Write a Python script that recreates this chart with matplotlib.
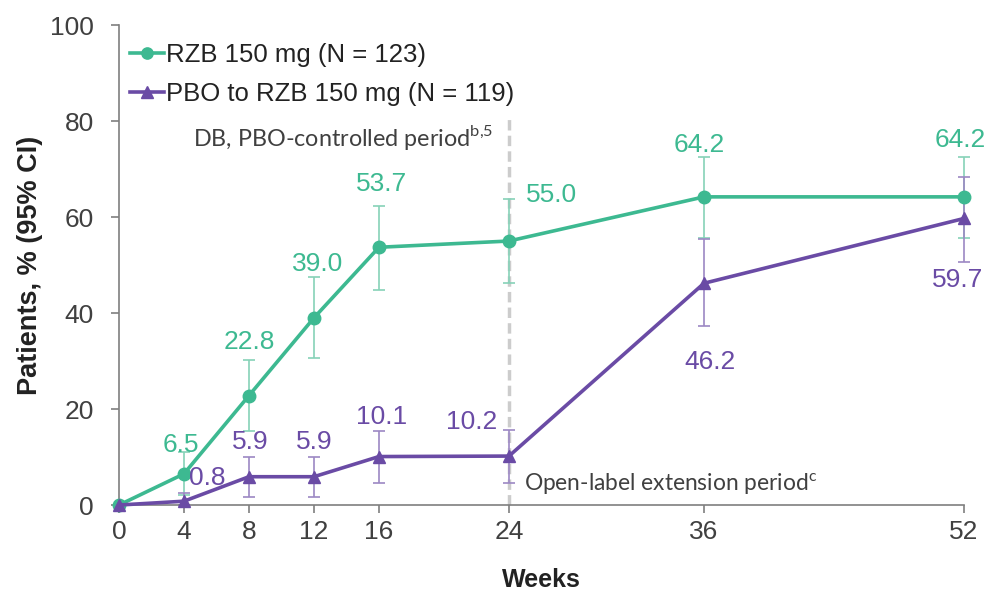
import numpy as np
import matplotlib
matplotlib.use("Agg")
import matplotlib.pyplot as plt

plt.rcParams['font.family'] = ['Liberation Sans', 'DejaVu Sans']

# data
weeks = [0, 4, 8, 12, 16, 24, 36, 52]
rzb = [0.0, 6.5, 22.8, 39.0, 53.7, 55.0, 64.2, 64.2]
rzb_lo = [0.0, 2.0, 15.4, 30.6, 44.8, 46.3, 55.6, 55.6]
rzb_hi = [0.0, 11.0, 30.2, 47.5, 62.3, 63.8, 72.5, 72.5]
pbo = [0.0, 0.8, 5.9, 5.9, 10.1, 10.2, 46.2, 59.7]
pbo_lo = [0.0, 0.0, 1.7, 1.7, 4.6, 4.6, 37.3, 50.6]
pbo_hi = [0.0, 2.5, 10.0, 10.0, 15.4, 15.6, 55.4, 68.3]
rzb_labels = ['', '6.5', '22.8', '39.0', '53.7', '55.0', '64.2', '64.2']
pbo_labels = ['', '0.8', '5.9', '5.9', '10.1', '10.2', '46.2', '59.7']
xticks = [0, 4, 8, 12, 16, 24, 36, 52]
yticks = [0, 20, 40, 60, 80, 100]

teal = '#3DB991'
purple = '#6A4BA5'
teal_err = '#86D2B8'
purple_err = '#9C88C4'
grey = '#404040'

# label offsets (pixels)
rzb_off = [(0, 0), (-3, 29), (0, 54), (4, 54), (3, 63), (43, 46), (-5, 52), (-4, 57)]
pbo_off = [(0, 0), (23, 23), (1, 35), (0, 35), (3, 40), (-37, 34), (6, -79), (-6, -62)]

fig = plt.figure(figsize=(9.93, 5.9), dpi=100)
ax = fig.add_axes([0.1198, 0.144, 0.851, 0.8136])

ax.axvline(24, ymin=0, ymax=0.81, color='#cccccc', lw=2.5, ls=(0, (3, 1.5)), zorder=1)

r = np.array(rzb); p = np.array(pbo)
ax.errorbar(weeks, rzb, yerr=[r - np.array(rzb_lo), np.array(rzb_hi) - r], fmt='none',
            ecolor=teal_err, elinewidth=1.2, capsize=4, capthick=1.2, zorder=2)
ax.errorbar(weeks, pbo, yerr=[p - np.array(pbo_lo), np.array(pbo_hi) - p], fmt='none',
            ecolor=purple_err, elinewidth=1.2, capsize=4, capthick=1.2, zorder=2)
ax.plot(weeks, rzb, '-o', color=teal, lw=2.6, ms=9, zorder=3, label='RZB 150 mg (N = 123)')
ax.plot(weeks, pbo, '-^', color=purple, lw=2.6, ms=9, zorder=4, label='PBO to RZB 150 mg (N = 119)')

for w, v, t, o in zip(weeks, rzb, rzb_labels, rzb_off):
    if t:
        ax.annotate(t, (w, v), xytext=o, textcoords='offset pixels', ha='center', va='center',
                    fontsize=19, color=teal)
for w, v, t, o in zip(weeks, pbo, pbo_labels, pbo_off):
    if t:
        ax.annotate(t, (w, v), xytext=o, textcoords='offset pixels', ha='center', va='center',
                    fontsize=19, color=purple)

ax.text(23.0, 76.5, r'DB, PBO-controlled period$^{\mathregular{b{,}5}}$', ha='right', va='center',
        fontsize=16.8, color=grey, family=['Lato', 'DejaVu Sans'])
ax.text(24.9, 4.4, r'Open-label extension period$^{\mathregular{c}}$', ha='left', va='center',
        fontsize=16.4, color=grey, family=['Lato', 'DejaVu Sans'])

ax.set_xlim(0, 52)
ax.set_ylim(0, 100)
ax.set_xticks(xticks)
ax.set_yticks(yticks)
ax.tick_params(labelsize=19, colors='#7f7f7f', labelcolor=grey, length=6, width=1.2)
ax.tick_params(axis='x', pad=5)
ax.tick_params(axis='y', pad=12)
for s in ['top', 'right']:
    ax.spines[s].set_visible(False)
for s in ['left', 'bottom']:
    ax.spines[s].set_color('#7f7f7f')
    ax.spines[s].set_linewidth(1.2)
for a in ax.get_children():
    try:
        a.set_clip_on(False)
    except Exception:
        pass

ax.set_xlabel('Weeks', fontsize=18, fontweight='bold', color='#222222', labelpad=17)
ax.set_ylabel('Patients, % (95% CI)', fontsize=19.5, fontweight='bold', color='#222222', labelpad=5)

leg = ax.legend(loc='upper left', bbox_to_anchor=(-0.008, 1.0), frameon=False, fontsize=18.5,
                handlelength=1.3, handletextpad=0.1, labelspacing=0.6, markerscale=0.9,
                borderaxespad=0.3)
for t in leg.get_texts():
    t.set_color('#222222')

fig.savefig('out.png', dpi=100)
